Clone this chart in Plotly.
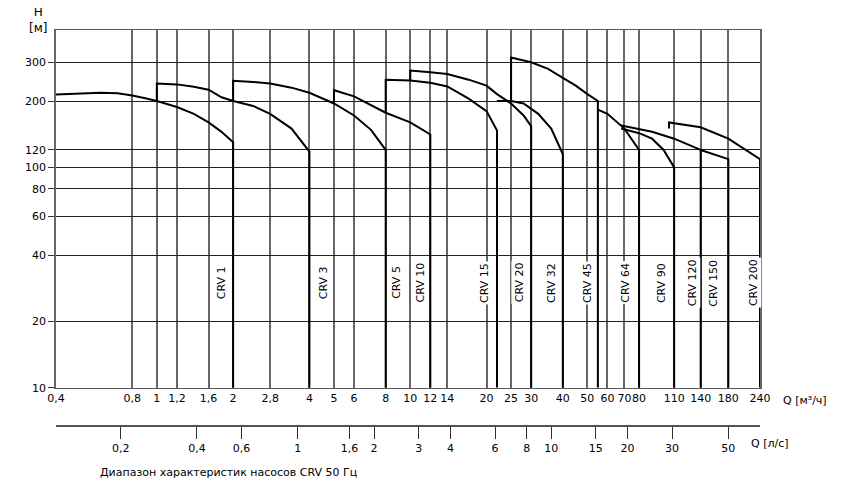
import numpy as np
import plotly.graph_objects as go

q_ticks = [0.4,0.8,1,1.2,1.6,2,2.8,4,5,6,8,10,12,14,20,25,30,40,50,60,70,80,110,140,180,240]
q_labels = ["0,4","0,8","1","1,2","1,6","2","2,8","4","5","6","8","10","12","14","20","25","30","40","50","60","70","80","110","140","180","240"]
ls_ticks = [0.2,0.4,0.6,1,1.6,2,3,4,6,8,10,15,20,30,50]
ls_labels = ["0,2","0,4","0,6","1","1,6","2","3","4","6","8","10","15","20","30","50"]
h_ticks = [10,20,40,60,80,100,120,200,300]

curves = {
 "CRV 1":  ([0.4,0.5,0.6,0.7,0.8,0.9,1,1.2,1.4,1.6,1.8,2,2], [214,217,218,217,212,206,200,188,175,160,145,130,10]),
 "CRV 3":  ([1,1,1.2,1.4,1.6,1.8,2,2.4,2.8,3.4,4,4], [200,240,238,232,225,208,200,190,175,150,118,10]),
 "CRV 5":  ([2,2,2.4,2.8,3.4,4,5,6,7,8,8], [200,247,244,240,230,218,195,172,148,120,10]),
 "CRV 10": ([5,5,6,8,10,12,12], [195,224,210,177,160,141,10]),
 "CRV 15": ([8,8,10,12,14,17,20,22,22], [177,250,248,242,233,205,180,147,10]),
 "CRV 20": ([10,10,12,14,17,20,22,25,28,30,30], [248,275,270,265,250,235,215,195,172,154,10]),
 "CRV 32": ([22,25,28,32,36,40,40], [200,200,195,175,150,115,10]),
 "CRV 45": ([25,25,30,35,40,45,50,55,55], [200,315,300,280,255,235,215,200,10]),
 "CRV 64": ([55,60,70,80,80], [183,175,150,120,10]),
 "CRV 90": ([68,80,90,100,110,110], [150,143,135,120,100,10]),
 "CRV 120": ([68,90,110,140,140], [155,145,135,120,10]),
 "CRV 150": ([140,180,180], [120,109,10]),
 "CRV 200": ([105,105,140,180,240,240], [150,160,152,135,109,10]),
}
label_q = {"CRV 1":1.8,"CRV 3":4.55,"CRV 5":8.8,"CRV 10":11,"CRV 15":19.6,"CRV 20":27,
           "CRV 32":36,"CRV 45":50,"CRV 64":71,"CRV 90":98,"CRV 120":130,"CRV 150":158,"CRV 200":226}

fig = go.Figure()
for name,(qx,hy) in curves.items():
    fig.add_trace(go.Scatter(x=qx,y=hy,mode="lines",line=dict(color="black",width=2),
                             showlegend=False,hoverinfo="skip",name=name))
fig.add_trace(go.Scatter(x=[1],y=[10],xaxis="x2",mode="markers",marker=dict(opacity=0),
                         showlegend=False,hoverinfo="skip"))

xr = [np.log10(0.4), np.log10(240)]
font = dict(family="DejaVu Sans", size=12, color="black")
tfont = dict(family="DejaVu Sans", size=11, color="black")
fig.update_layout(
    width=848, height=490, plot_bgcolor="white", paper_bgcolor="white",
    margin=dict(l=48, r=96, t=22, b=45, autoexpand=False), font=font,
    xaxis=dict(type="log", range=xr, tickvals=q_ticks, ticktext=q_labels, tickangle=0, showgrid=True,
               gridcolor="#666", gridwidth=1.5, showline=True, linecolor="#555", mirror=True,
               ticks="", zeroline=False, tickfont=tfont, automargin=False),
    xaxis2=dict(type="log", range=xr, overlaying="x", anchor="free", position=0.064,
                tickvals=[v*3.6 for v in ls_ticks], ticktext=ls_labels, tickangle=0, showgrid=False,
                showline=True, linecolor="#555", linewidth=2, ticks="outside", ticklen=12,
                tickcolor="#333", side="bottom", tickfont=tfont, automargin=False),
    yaxis=dict(type="log", range=[1, np.log10(420)], domain=[0.154,1], tickvals=h_ticks,
               ticktext=[str(v) for v in h_ticks], showgrid=True, gridcolor="#222", gridwidth=1.2,
               showline=True, linecolor="#666", linewidth=1.5, mirror=True,
               ticks="outside", ticklen=6, tickcolor="#333", zeroline=False, tickfont=tfont,
               automargin=False),
)
for name,qv in label_q.items():
    fig.add_annotation(x=np.log10(qv), y=np.log10(30), text=name, textangle=-90, showarrow=False,
                       xanchor="center", yanchor="middle", font=dict(family="DejaVu Sans", size=11),
                       bgcolor="white")
fig.add_annotation(xref="paper", yref="paper", x=-0.01, y=1.065, text="H<br>[м]", showarrow=False,
                   xanchor="right", yanchor="top", font=dict(family="DejaVu Sans", size=12), align="center")
fig.add_annotation(xref="paper", yref="paper", x=1.03, y=0.105, text="Q [м³/ч]", showarrow=False,
                   xanchor="left", font=tfont)
fig.add_annotation(xref="paper", yref="paper", x=0.985, y=0.003, text="Q [л/с]", showarrow=False,
                   xanchor="left", font=tfont)
fig.add_annotation(xref="paper", yref="paper", x=0.06, y=-0.066, text="Диапазон характеристик насосов CRV 50 Гц",
                   showarrow=False, xanchor="left", font=dict(family="DejaVu Sans", size=11))
fig.write_html("out.html")
